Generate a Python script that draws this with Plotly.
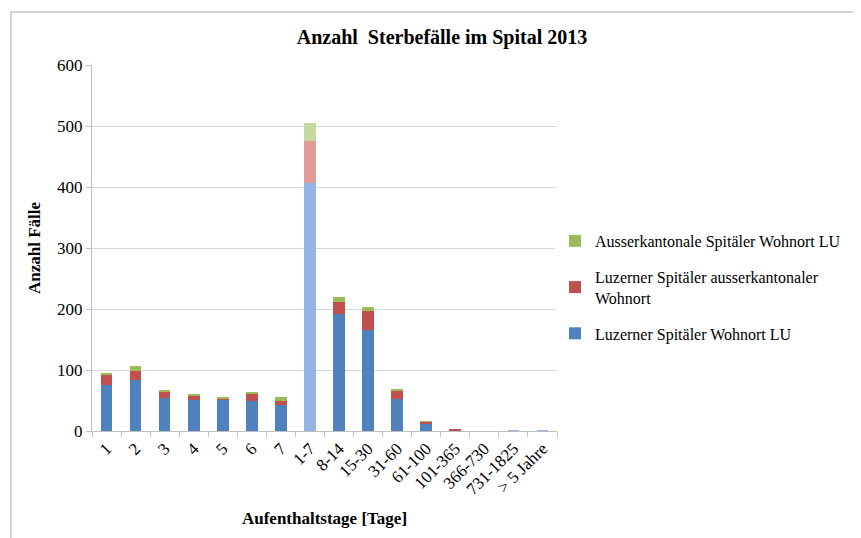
import plotly.graph_objects as go

categories = ["1", "2", "3", "4", "5", "6", "7", "1-7", "8-14", "15-30", "31-60",
              "61-100", "101-365", "366-730", "731-1825", "> 5 Jahre"]
luzern_lu = [75, 84, 54, 51, 51, 49, 43, 407, 192, 166, 52, 12, 0, 0, 1, 1]
luzern_ausser = [16, 14, 11, 7, 3, 11, 7, 69, 20, 31, 15, 3, 4, 0, 0, 0]
ausserkant_lu = [4, 8, 2, 3, 2, 4, 6, 29, 8, 7, 2, 1, 0, 0, 0, 0]

light = {"1-7", "731-1825", "> 5 Jahre"}


def colors(base, pale):
    return [pale if c in light else base for c in categories]


FONT = "Liberation Serif"
# the page adds an 8px body margin, so everything is laid out 8px up/left
W, H = 853, 530
L, T = 84, 57
PW, PH = 465, 366

fig = go.Figure()
fig.add_trace(go.Bar(x=categories, y=luzern_lu, name="Luzerner Spitäler Wohnort LU",
                     marker=dict(color=colors("#4f81bd", "#95b3e3"), line=dict(width=0)),
                     legendgroup="a", legendrank=3))
fig.add_trace(go.Bar(x=categories, y=luzern_ausser,
                     name="Luzerner Spitäler ausserkantonaler<br>Wohnort",
                     marker=dict(color=colors("#c0504d", "#e39b99"), line=dict(width=0)),
                     legendgroup="b", legendrank=2))
fig.add_trace(go.Bar(x=categories, y=ausserkant_lu, name="Ausserkantonale Spitäler Wohnort LU",
                     marker=dict(color=colors("#9bbb59", "#c5d99e"), line=dict(width=0)),
                     legendgroup="c", legendrank=1))

fx = lambda px: (px - 8 - L) / PW
fy = lambda py: 1 - (py - 8 - T) / PH

fig.update_layout(
    barmode="stack",
    bargap=0.6,
    width=W,
    height=H,
    margin=dict(l=L, r=W - L - PW, t=T, b=H - T - PH, autoexpand=False),
    paper_bgcolor="white",
    plot_bgcolor="white",
    font=dict(family=FONT, size=16, color="#000000"),
    title=dict(text="<b>Anzahl  Sterbefälle im Spital 2013</b>", x=(442 - 8) / W, xanchor="center",
               y=1 - (37 - 8) / H, yanchor="middle", font=dict(family=FONT, size=20)),
    legend=dict(x=fx(555), xanchor="left", y=fy(224), yanchor="top",
                traceorder="grouped", tracegroupgap=12,
                font=dict(family=FONT, size=16), itemwidth=30),
    shapes=[
        dict(type="line", xref="paper", yref="paper", x0=fx(11), x1=2, y0=fy(12),
             y1=fy(12), line=dict(color="#a6a6a6", width=1)),
        dict(type="line", xref="paper", yref="paper", x0=fx(11), x1=fx(11),
             y0=fy(12), y1=-1, line=dict(color="#a6a6a6", width=1)),
    ],
)
fig.update_xaxes(
    title=dict(text="<b>Aufenthaltstage [Tage]</b>", font=dict(family=FONT, size=17), standoff=14),
    tickangle=-45, showline=True, linecolor="#bfbfbf", ticks="outside", ticklen=5,
    tickcolor="#bfbfbf", tickson="boundaries", tickfont=dict(size=17),
)
fig.update_yaxes(
    title=dict(text="<b>Anzahl Fälle</b>", font=dict(family=FONT, size=17), standoff=12),
    range=[0, 600], dtick=100, showgrid=True, gridcolor="#d9d9d9", showline=True,
    linecolor="#bfbfbf", ticks="outside", ticklen=5, tickcolor="#bfbfbf",
    tickfont=dict(size=17), zeroline=False,
)

fig.write_html("out.html")
